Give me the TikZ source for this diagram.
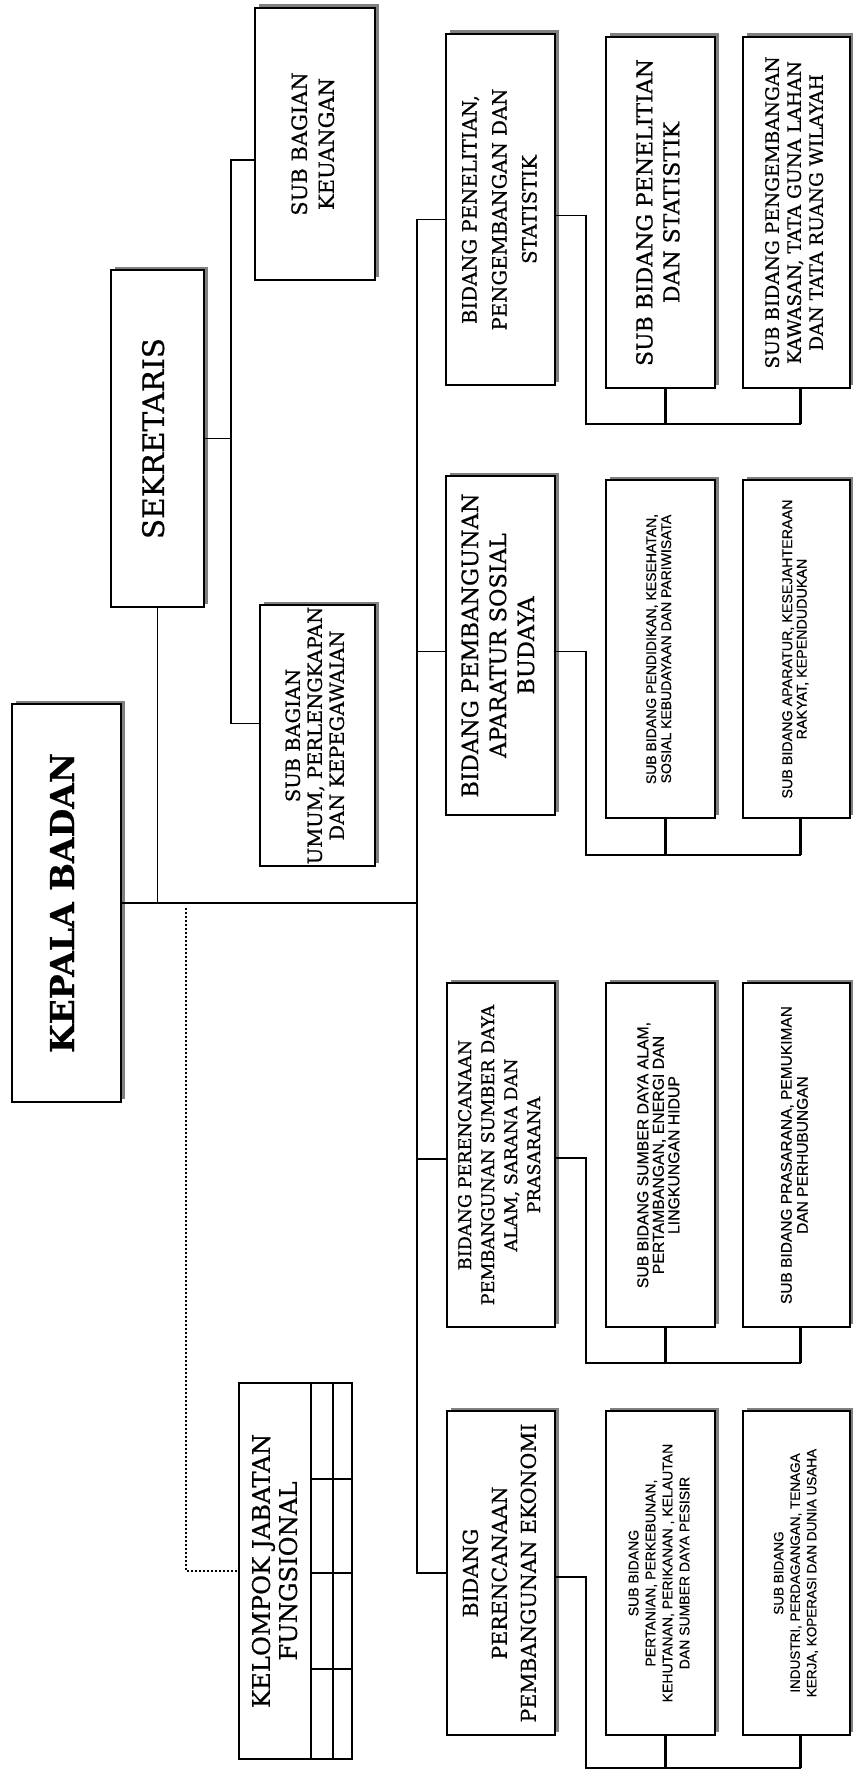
\documentclass[tikz,border=0pt]{standalone}
\usepackage{fontspec}
\usepackage{graphicx}
\setmainfont{DejaVu Serif}[FakeBold=0.7]
\newfontfamily\smallsans{Liberation Sans}[FakeBold=0.5]
\usetikzlibrary{shadows}

% rotated, centred block of lines: family, size, line pitch, lines
\newcommand\vlines[4]{\rotatebox{90}{#1\fontsize{#2}{#3}\selectfont\begin{tabular}{@{}c@{}}#4\end{tabular}}}

\begin{document}
\begin{tikzpicture}[x=1pt,y=-1pt,
  box/.style={draw, line width=2.6pt, fill=white, inner sep=0pt,
    drop shadow={shadow xshift=3.5pt, shadow yshift=3.5pt, fill=black!50, opacity=1}},
  plainbox/.style={draw, line width=2.6pt, fill=white, inner sep=0pt},
  conn/.style={line width=1.8pt},
  tick/.style={line width=2.8pt},
  dots/.style={line width=2.2pt, dash pattern=on 2pt off 2pt},
]
\path[use as bounding box, fill=white] (0,0) rectangle (852,1774);

% ---- top level ----
\node[box, minimum width=109pt, minimum height=398pt] (kepala) at (66.5,903)
  {\vlines{\bfseries}{33}{38}{KEPALA BADAN}};
\node[box, minimum width=93pt, minimum height=337pt] (sek) at (157.5,438.5)
  {\vlines{\rmfamily}{29.5}{32}{SEKRETARIS}};
\node[box, minimum width=120pt, minimum height=272pt] (keu) at (315,144)
  {\vlines{\rmfamily}{21}{27}{SUB BAGIAN\\KEUANGAN}};
\node[box, minimum width=115pt, minimum height=261pt] (umum) at (317.5,735.5)
  {\vlines{\rmfamily}{19.5}{22}{SUB BAGIAN\\UMUM, PERLENGKAPAN\\DAN KEPEGAWAIAN}};

% ---- kelompok jabatan fungsional ----
\node[plainbox, minimum width=113pt, minimum height=376pt] (kel) at (295.5,1571) {};
\node (keltext) at (278,1571)
  {\vlines{\rmfamily}{24.3}{27}{KELOMPOK JABATAN\\FUNGSIONAL}};
\draw[line width=2.2pt] (311,1383) -- (311,1759);
\draw[line width=2.2pt] (333,1383) -- (333,1759);
\foreach \yy in {1479,1573,1669} \draw[line width=2.2pt] (311,\yy) -- (352,\yy);
\draw[tick] (311,1565) -- (311,1581);
\draw[tick] (311,1661) -- (311,1677);

% ---- bidang ----
\node[box, minimum width=109pt, minimum height=351pt] (pen) at (500.5,209.5)
  {\vlines{\rmfamily}{19.7}{30}{BIDANG PENELITIAN,\\PENGEMBANGAN DAN\\STATISTIK}};
\node[box, minimum width=109pt, minimum height=339pt] (apa) at (500.5,645.5)
  {\vlines{\rmfamily}{22.5}{28}{BIDANG PEMBANGUNAN\\APARATUR SOSIAL\\BUDAYA}};
\node[box, minimum width=108pt, minimum height=344pt] (sda) at (501,1155)
  {\vlines{\rmfamily}{17.6}{23}{BIDANG PERENCANAAN\\PEMBANGUNAN SUMBER DAYA\\ALAM, SARANA DAN\\PRASARANA}};
\node[box, minimum width=108pt, minimum height=324pt] (eko) at (501,1573)
  {\vlines{\rmfamily}{20.5}{29}{BIDANG\\PERENCANAAN\\PEMBANGUNAN EKONOMI}};

% ---- sub bidang ----
\node[box, minimum width=109pt, minimum height=351pt] (s11) at (660.5,212.5)
  {\vlines{\rmfamily}{22}{27}{SUB BIDANG PENELITIAN\\DAN STATISTIK}};
\node[box, minimum width=107pt, minimum height=351pt] (s12) at (796.5,212.5)
  {\vlines{\rmfamily}{18.6}{22}{SUB BIDANG PENGEMBANGAN\\KAWASAN, TATA GUNA LAHAN\\DAN TATA RUANG WILAYAH}};
\node[box, minimum width=109pt, minimum height=338pt] (s21) at (660.5,649)
  {\vlines{\smallsans}{14}{15}{SUB BIDANG PENDIDIKAN, KESEHATAN,\\SOSIAL KEBUDAYAAN DAN PARIWISATA}};
\node[box, minimum width=107pt, minimum height=338pt] (s22) at (796.5,649)
  {\vlines{\smallsans}{14.3}{14.5}{SUB BIDANG APARATUR, KESEJAHTERAAN\\RAKYAT, KEPENDUDUKAN}};
\node[box, minimum width=109pt, minimum height=344pt] (s31) at (660.5,1155)
  {\vlines{\smallsans}{15.8}{15}{SUB BIDANG SUMBER DAYA ALAM,\\PERTAMBANGAN, ENERGI DAN\\LINGKUNGAN HIDUP}};
\node[box, minimum width=107pt, minimum height=344pt] (s32) at (796.5,1155)
  {\vlines{\smallsans}{15.5}{16}{SUB BIDANG PRASARANA, PEMUKIMAN\\DAN PERHUBUNGAN}};
\node[box, minimum width=109pt, minimum height=324pt] (s41) at (660.5,1573)
  {\vlines{\smallsans}{14}{17}{SUB BIDANG\\PERTANIAN, PERKEBUNAN,\\KEHUTANAN, PERIKANAN , KELAUTAN\\DAN SUMBER DAYA PESISIR}};
\node[box, minimum width=107pt, minimum height=324pt] (s42) at (796.5,1573)
  {\vlines{\smallsans}{13.5}{16.5}{SUB BIDANG\\INDUSTRI, PERDAGANGAN, TENAGA\\KERJA, KOPERASI DAN DUNIA USAHA}};

% ---- connector rails ----
\coordinate (tr) at (417,0);   % main trunk
\coordinate (sx) at (231,0);   % secretariat rail
\coordinate (dx) at (186,0);   % dotted rail

% head to trunk, secretariat and dotted line
\draw[conn] (kepala.east) -- (kepala.east -| tr);
\draw[conn] (sek.south) -- (sek.south |- kepala.east);
\draw[conn] (sek.east) -- (sek.east -| sx);
\coordinate (ku) at ([yshift=-16pt]keu.west);
\coordinate (um) at ([yshift=12pt]umum.west);
\draw[conn] (ku) -| (sx |- um) -- (um);
\coordinate (dt) at ([yshift=-5pt]kepala.east -| dx);
\draw[dots] (dt) |- (kel.west);

% trunk to the four bidang
\coordinate (pw) at ([yshift=-10pt]pen.west);
\coordinate (aw) at ([yshift=-6pt]apa.west);
\coordinate (sw) at ([yshift=-4pt]sda.west);
\draw[conn] (pw) -| (tr |- eko.west) -- (eko.west);
\draw[conn] (tr |- aw) -- (aw);
\draw[conn] (tr |- sw) -- (sw);

% bidang to their sub bidang
\coordinate (pe) at ([yshift=-6pt]pen.east);
\coordinate (ae) at ([yshift=-6pt]apa.east);
\coordinate (se) at ([yshift=-3pt]sda.east);
\coordinate (ee) at ([yshift=-4pt]eko.east);
\coordinate (b1) at (586,424);
\coordinate (b2) at (586,855);
\coordinate (b3) at (586,1363);
\coordinate (b4) at (586,1768);
\foreach \be/\bb/\sa/\sb in {pe/b1/s11/s12, ae/b2/s21/s22, se/b3/s31/s32, ee/b4/s41/s42}{
  \coordinate (ta) at ([xshift=5pt]\sa.south);
  \coordinate (tb) at ([xshift=4pt]\sb.south);
  \draw[conn] (\be) -| (\bb) -- (\bb -| tb);
  \draw[tick] (ta) -- (ta |- \bb);
  \draw[tick] (tb) -- (tb |- \bb);
}
\end{tikzpicture}
\end{document}
